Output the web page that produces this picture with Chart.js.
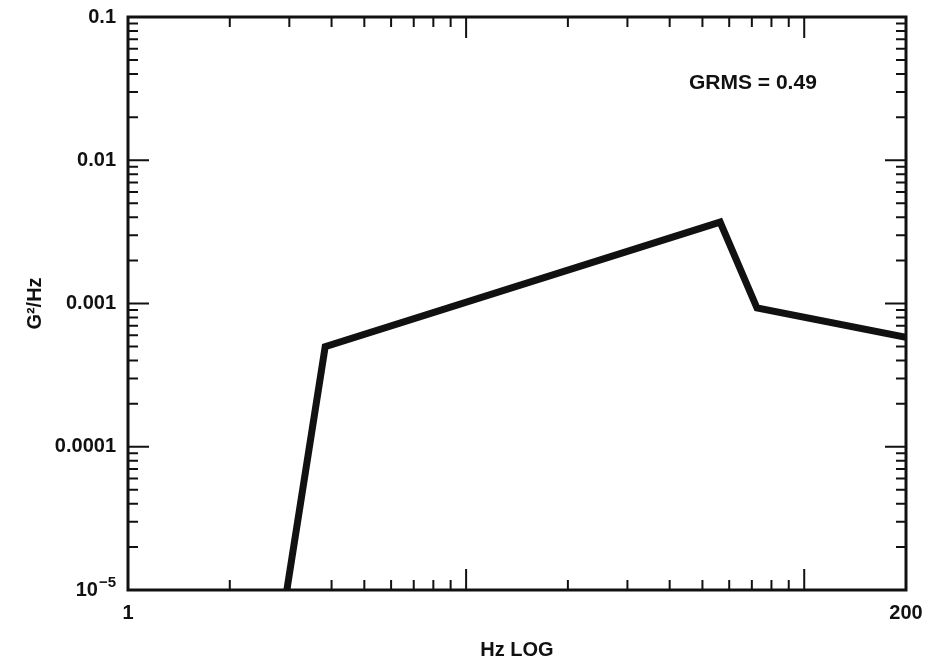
<!DOCTYPE html>
<html>
<head>
<meta charset="utf-8">
<script src="https://cdn.jsdelivr.net/npm/chart.js@4.4.1/dist/chart.umd.min.js"></script>
<style>
  html, body { margin: 0; padding: 0; background: #fff; }
  #wrap { width: 928px; height: 667px; }
</style>
</head>
<body>
<div id="wrap"><canvas id="psd"></canvas></div>
<script>
// spectrum breakpoints (Hz, G^2/Hz)
const freqHz = [2.95, 3.83, 56.4, 72.5, 200];
const psdValues = [0.00001, 0.0005, 0.0037, 0.00093, 0.00058];

const xTickValues = [1, 200];
const xTickLabels = ['1', '200'];
const yTickValues = [0.1, 0.01, 0.001, 0.0001, 0.00001];
const yTickLabels = ['0.1', '0.01', '0.001', '0.0001', ''];   // 10^-5 drawn with a superscript below

const grmsText = 'GRMS = 0.49';
const FONT = '"Liberation Sans", Arial, Helvetica, sans-serif';
const INK = '#111';

const pickLabel = (v, values, labels) => {
    const i = values.findIndex(t => Math.abs(Math.log10(t) - Math.log10(v)) < 1e-6);
    return i >= 0 ? labels[i] : '';
};

// frame, inward ticks on all four sides, exponent label, GRMS note
const framePlugin = {
    id: 'frame',
    afterDraw(chart) {
        const { ctx, chartArea: a, scales: { x, y } } = chart;
        ctx.save();
        ctx.strokeStyle = INK;
        ctx.lineWidth = 3;
        ctx.strokeRect(a.left, a.top, a.right - a.left, a.bottom - a.top);

        ctx.lineWidth = 2;
        const major = 21, minor = 10;
        ctx.beginPath();
        for (let d = 0; d <= 2; d++) {
            for (let m = 1; m <= 9; m++) {
                const v = m * Math.pow(10, d);
                if (v <= x.min || v >= x.max) continue;
                const px = x.getPixelForValue(v);
                const len = m === 1 ? major : minor;
                ctx.moveTo(px, a.bottom); ctx.lineTo(px, a.bottom - len);
                ctx.moveTo(px, a.top); ctx.lineTo(px, a.top + len);
            }
        }
        for (let d = -5; d <= -2; d++) {
            for (let m = 1; m <= 9; m++) {
                const v = m * Math.pow(10, d);
                if (v <= y.min * 1.0001 || v >= y.max * 0.9999) continue;
                const py = y.getPixelForValue(v);
                const len = m === 1 ? major : minor;
                ctx.moveTo(a.left, py); ctx.lineTo(a.left + len, py);
                ctx.moveTo(a.right, py); ctx.lineTo(a.right - len, py);
            }
        }
        ctx.stroke();

        // 10^-5 label
        ctx.fillStyle = INK;
        ctx.textBaseline = 'middle';
        ctx.textAlign = 'right';
        const py = y.getPixelForValue(0.00001);
        ctx.font = 'bold 15px ' + FONT;
        const supW = ctx.measureText('\u22125').width;
        const rightEdge = a.left - 12;
        ctx.fillText('\u22125', rightEdge, py - 7);
        ctx.font = 'bold 20px ' + FONT;
        ctx.fillText('10', rightEdge - supW - 1, py);

        // GRMS note
        ctx.textAlign = 'left';
        ctx.font = 'bold 21px ' + FONT;
        ctx.fillText(grmsText, 689, 83);
        ctx.restore();
    }
};

new Chart(document.getElementById('psd'), {
    type: 'line',
    data: {
        datasets: [{
            data: freqHz.map((f, i) => ({ x: f, y: psdValues[i] })),
            borderColor: INK,
            borderWidth: 7,
            borderJoinStyle: 'miter',
            pointRadius: 0,
            tension: 0,
            fill: false
        }]
    },
    options: {
        responsive: true,
        maintainAspectRatio: false,
        animation: false,
        layout: { padding: { top: 17, right: 22, left: 0, bottom: 0 } },
        plugins: { legend: { display: false }, tooltip: { enabled: false } },
        scales: {
            x: {
                type: 'logarithmic',
                min: 1,
                max: 200,
                grid: { display: false, drawTicks: false },
                border: { display: false },
                ticks: {
                    autoSkip: false,
                    maxRotation: 0,
                    padding: 11,
                    color: INK,
                    font: { family: FONT, size: 20, weight: 'bold' },
                    callback: v => pickLabel(v, xTickValues, xTickLabels)
                },
                title: {
                    display: true,
                    text: 'Hz LOG',
                    color: INK,
                    font: { family: FONT, size: 20, weight: 'bold' },
                    padding: { top: 0, bottom: 5 }
                },
                afterFit: s => { s.height = 77; s.paddingLeft = 0; s.paddingRight = 0; }
            },
            y: {
                type: 'logarithmic',
                min: 0.00001,
                max: 0.1,
                grid: { display: false, drawTicks: false },
                border: { display: false },
                ticks: {
                    autoSkip: false,
                    padding: 12,
                    color: INK,
                    font: { family: FONT, size: 20, weight: 'bold' },
                    callback: v => pickLabel(v, yTickValues, yTickLabels)
                },
                title: {
                    display: true,
                    text: 'G\u00b2/Hz',
                    color: INK,
                    font: { family: FONT, size: 20, weight: 'bold' },
                    padding: { top: 23, bottom: 0 }
                },
                afterFit: s => { s.width = 128; s.paddingTop = 0; s.paddingBottom = 0; }
            }
        }
    },
    plugins: [framePlugin]
});
</script>
</body>
</html>
